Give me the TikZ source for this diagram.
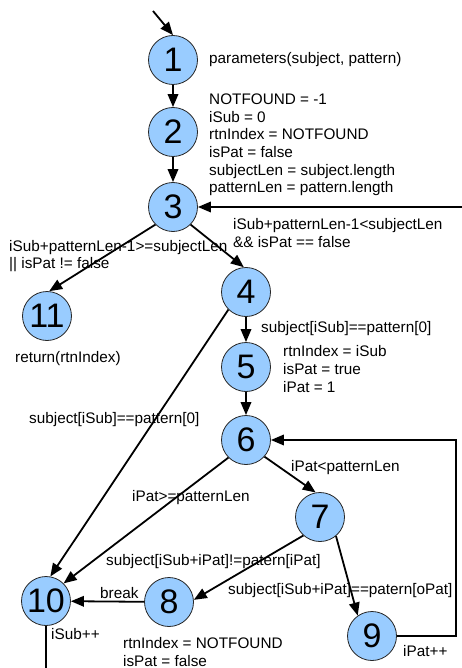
\documentclass[tikz,border=0pt]{standalone}
\usepackage{fontspec}
\setmainfont{Liberation Sans}
\usetikzlibrary{arrows.meta}
\definecolor{nodeblue}{HTML}{99CCFF}
\begin{document}
\begin{tikzpicture}[x=1pt,y=-1pt,
  state/.style={circle,draw=black!85,line width=0.8pt,fill=nodeblue,minimum size=49pt,inner sep=0pt,font=\fontsize{34}{34}\selectfont},
  lbl/.style={anchor=west,align=left,inner sep=0pt,font=\fontsize{15.3}{17.6}\selectfont},
  flow/.style={line width=1.8pt,-{Triangle[length=13pt,width=10.5pt]}},
  plain/.style={line width=1.8pt}]
\useasboundingbox (0,0) rectangle (462,668);
\node[state] (n1) at (173,60) {1};
\node[state] (n2) at (173,132) {2};
\node[state] (n3) at (173,207) {3};
\node[state] (n11) at (47,316) {11};
\node[state] (n4) at (246,292) {4};
\node[state] (n5) at (246,367) {5};
\node[state] (n6) at (246,440) {6};
\node[state] (n7) at (320,517) {7};
\node[state] (n10) at (46,601) {10};
\node[state] (n8) at (169,602) {8};
\node[state] (n9) at (372,636) {9};
\coordinate (start) at (153,11);
\coordinate (in3) at (462,207);
\coordinate (loop) at (456,0);
\coordinate (out10) at (46,668);
% labels
\node[lbl] (t1) at (209,60) {parameters(subject, pattern)};
\node[lbl] (t2) at (209,145) {NOTFOUND = -1\\iSub = 0\\rtnIndex = NOTFOUND\\isPat = false\\subjectLen = subject.length\\patternLen = pattern.length};
\node[lbl] (t34) at (233,233) {iSub+patternLen-1<subjectLen\\\&\& isPat == false};
\node[lbl] (t311) at (9,256) {iSub+patternLen-1>=subjectLen\\|| isPat != false};
\node[lbl] (t11) at (15,359) {return(rtnIndex)};
\node[lbl] (t45) at (261,329) {subject[iSub]==pattern[0]};
\node[lbl] (t5) at (283,369) {rtnIndex = iSub\\isPat = true\\iPat = 1};
\node[lbl] (t410) at (29,420) {subject[iSub]==pattern[0]};
\node[lbl] (t67) at (291,468) {iPat<patternLen};
\node[lbl] (t610) at (132,498) {iPat>=patternLen};
\node[lbl] (t78) at (106,562) {subject[iSub+iPat]!=patern[iPat]};
\node[lbl] (t79) at (228,591) {subject[iSub+iPat]==patern[oPat]};
\node[lbl] (t810) at (100,593) {break};
\node[lbl] (t10) at (51,634) {iSub++};
\node[lbl] (t8) at (123,652) {rtnIndex = NOTFOUND\\isPat = false};
\node[lbl] (t9) at (403,651) {iPat++};
% edges
\draw[flow] (start) -- (n1.north);
\draw[flow] (n1) -- (n2);
\draw[flow] (n2) -- (n3);
\draw[flow] (in3) -- (n3);
\draw[flow] (n3.225) -- (n11.85);
\draw[flow] (n3.315) -- (n4.95);
\draw[flow] (n4) -- (n5);
\draw[flow] (n4.225) -- (n10.80);
\draw[flow] (n5) -- (n6);
\draw[flow] (n6.318) -- (n7.100);
\draw[flow] (n6.225) -- (n10.45);
\draw[flow] (n7.228) -- (n8.5);
\draw[flow] (n7.310) -- (n9.125);
\draw[flow] (n8) -- (n10);
\draw[flow] (n9.east) -- (n9.east -| loop) |- (n6.east);
\draw[plain] (n10.south) -- (out10);
\end{tikzpicture}
\end{document}
